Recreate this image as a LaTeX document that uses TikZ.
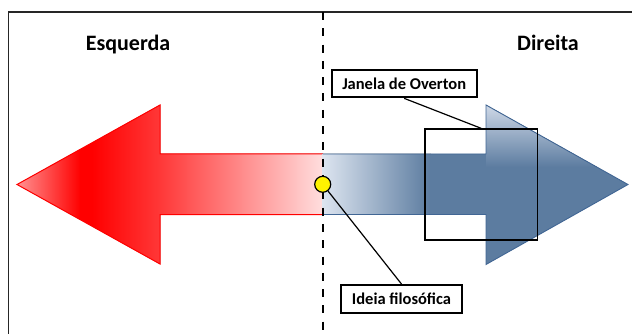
\documentclass[tikz,border=0pt]{standalone}
\usepackage{fontspec}
\setmainfont{Carlito}
\definecolor{redtip}{RGB}{255,150,150}
\definecolor{redmid}{RGB}{255,56,56}
\definecolor{redend}{RGB}{255,222,222}
\definecolor{bluelight}{RGB}{221,229,240}
\definecolor{bluesolid}{RGB}{92,124,160}
\definecolor{blueline}{RGB}{65,102,148}
\definecolor{bluetop}{RGB}{210,219,233}
\begin{document}
\begin{tikzpicture}[x=1pt,y=-1pt,line join=miter,
  heading/.style={font=\fontsize{22}{26}\selectfont\bfseries,inner sep=0pt},
  labelbox/.style={draw=black,line width=2pt,fill=white,
    font=\fontsize{16.5}{20}\selectfont\bfseries,inner sep=0pt},
  link/.style={draw=black,line width=1.2pt},
  windowbox/.style={draw=black,line width=1.3pt,inner sep=0pt,
    minimum width=112.5pt,minimum height=111pt},
  ideadot/.style={circle,draw=black,fill=yellow,line width=1.2pt,
    minimum size=16pt,inner sep=0pt}
]
\useasboundingbox (0,0) rectangle (632,334);

% outer frame (open to the right and bottom)
\draw[line width=1.5pt,draw=black!85] (8.5,340) -- (8.5,12) -- (640,12);

% left (red) arrow
\begin{scope}
  \clip (322.5,154) -- (160,154) -- (160,105) -- (17,184.5) -- (160,264)
        -- (160,214.5) -- (322.5,214.5) -- cycle;
  \fill[left color=redtip,right color=red] (15,100) rectangle (80.5,270);
  \fill[red] (80,100) rectangle (92.5,270);
  \fill[left color=red,right color=redmid] (92,100) rectangle (160.5,270);
  \fill[left color=redmid,right color=redend] (160,100) rectangle (323,270);
\end{scope}
\draw[red,line width=1pt] (322.5,154) -- (160,154) -- (160,105) -- (17,184.5)
  -- (160,264) -- (160,214.5) -- (322.5,214.5) -- cycle;

% right (blue) arrow
\begin{scope}
  \clip (322.5,154) -- (486,154) -- (486,105) -- (628,184.5) -- (486,264.5)
        -- (486,214.5) -- (322.5,214.5) -- cycle;
  \fill[left color=bluelight,right color=bluesolid] (322,100) rectangle (430.5,270);
  \fill[bluesolid] (430,100) rectangle (632,270);
  \fill[top color=bluetop,bottom color=bluesolid] (486,103) rectangle (632,167);
\end{scope}
\draw[blueline,line width=0.9pt] (322.5,154) -- (486,154) -- (486,105)
  -- (628,184.5) -- (486,264.5) -- (486,214.5) -- (322.5,214.5);

% headings
\node[heading,anchor=base] (esq) at (128,51) {Esquerda};
\node[heading,anchor=base] (dir) at (548,51) {Direita};

% Overton window
\node[windowbox] (win) at (481.25,184.5) {};

% centre divider
\draw[line width=2pt,dash pattern=on 8pt off 8.3pt] (322.5,12) -- (322.5,334);

% idea marker
\node[ideadot] (dot) at (322.7,184.3) {};

% callout labels
\node[labelbox,minimum width=145pt,minimum height=27.3pt] (jan) at (404.2,83.7) {Janela de Overton};
\node[labelbox,minimum width=121.6pt,minimum height=28.3pt] (ide) at (401.5,299.2) {Ideia filosófica};

\draw[link] (jan.south) -- (win.north);
\draw[link] (dot) -- (ide.north);
\end{tikzpicture}
\end{document}
